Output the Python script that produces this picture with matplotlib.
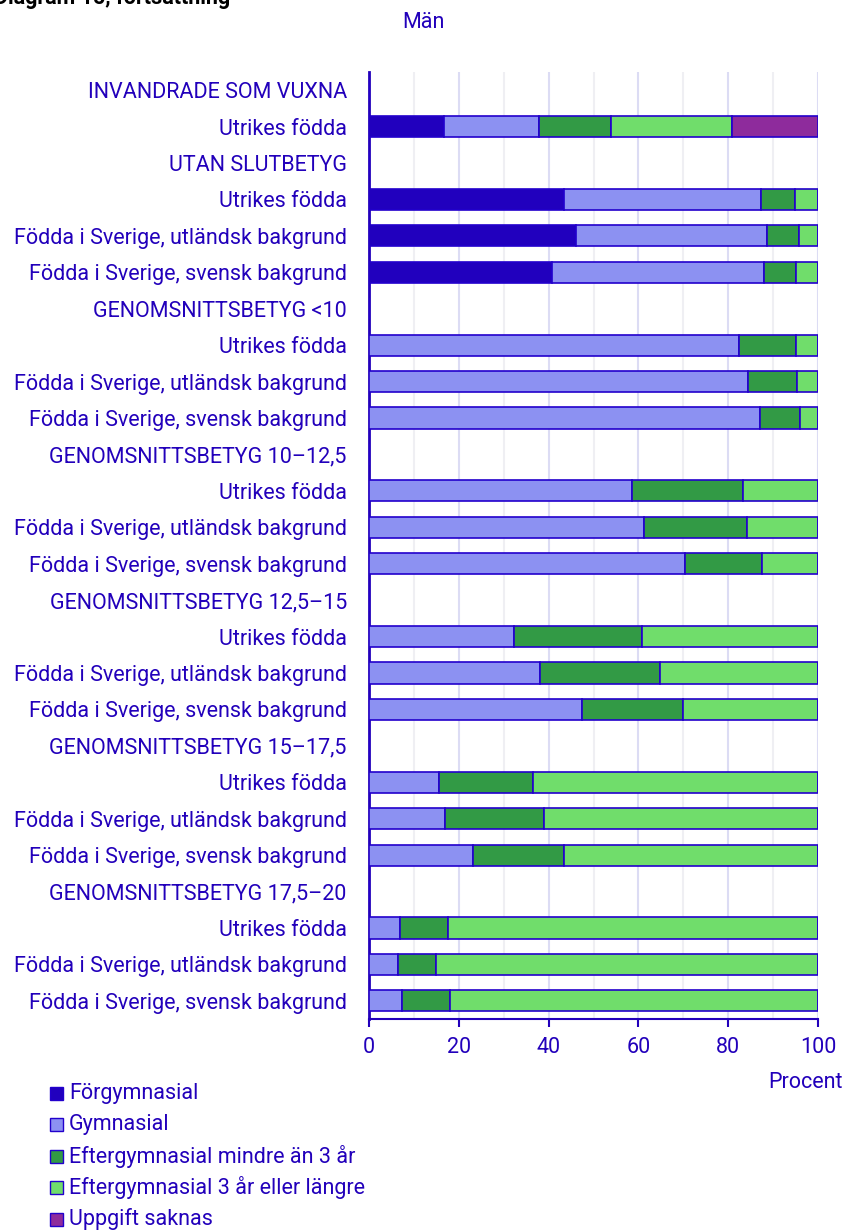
import matplotlib.pyplot as plt
from matplotlib.patches import Rectangle

plt.rcParams['font.family'] = ['Roboto', 'DejaVu Sans']

categories = [
    "INVANDRADE SOM VUXNA", "Utrikes födda",
    "UTAN SLUTBETYG", "Utrikes födda",
    "Födda i Sverige, utländsk bakgrund", "Födda i Sverige, svensk bakgrund",
    "GENOMSNITTSBETYG <10", "Utrikes födda",
    "Födda i Sverige, utländsk bakgrund", "Födda i Sverige, svensk bakgrund",
    "GENOMSNITTSBETYG 10–12,5", "Utrikes födda",
    "Födda i Sverige, utländsk bakgrund", "Födda i Sverige, svensk bakgrund",
    "GENOMSNITTSBETYG 12,5–15", "Utrikes födda",
    "Födda i Sverige, utländsk bakgrund", "Födda i Sverige, svensk bakgrund",
    "GENOMSNITTSBETYG 15–17,5", "Utrikes födda",
    "Födda i Sverige, utländsk bakgrund", "Födda i Sverige, svensk bakgrund",
    "GENOMSNITTSBETYG 17,5–20", "Utrikes födda",
    "Födda i Sverige, utländsk bakgrund", "Födda i Sverige, svensk bakgrund",
]

# header rows have no bars (0)
forgymnasial = [0, 16.8, 0, 43.4, 46.0, 40.7, 0, 0, 0, 0, 0, 0, 0, 0,
                0, 0, 0, 0, 0, 0, 0, 0, 0, 0, 0, 0]
gymnasial = [0, 21.1, 0, 44.0, 42.7, 47.2, 0, 82.3, 84.4, 87.0, 0, 58.6, 61.2, 70.3,
             0, 32.2, 38.0, 47.4, 0, 15.5, 16.9, 23.1, 0, 7.0, 6.4, 7.3]
efter_kort = [0, 16.1, 0, 7.4, 7.0, 7.3, 0, 12.9, 11.0, 9.1, 0, 24.6, 22.9, 17.3,
              0, 28.7, 26.8, 22.5, 0, 21.0, 22.0, 20.4, 0, 10.6, 8.6, 10.7]
efter_lang = [0, 26.8, 0, 5.2, 4.3, 4.8, 0, 4.8, 4.6, 3.9, 0, 16.8, 15.9, 12.4,
              0, 39.1, 35.2, 30.1, 0, 63.5, 61.1, 56.5, 0, 82.4, 85.0, 82.0]
uppgift_saknas = [0, 19.2, 0, 0, 0, 0, 0, 0, 0, 0, 0, 0, 0, 0,
                  0, 0, 0, 0, 0, 0, 0, 0, 0, 0, 0, 0]

series = [
    ("Förgymnasial", forgymnasial, "#2100be"),
    ("Gymnasial", gymnasial, "#8c91f2"),
    ("Eftergymnasial mindre än 3 år", efter_kort, "#329a45"),
    ("Eftergymnasial 3 år eller längre", efter_lang, "#70dd6b"),
    ("Uppgift saknas", uppgift_saknas, "#8e2b9c"),
]

TXT = "#2200bb"
FS = 15.5
W, H = 847, 1230

fig = plt.figure(figsize=(W / 100, H / 100), dpi=100)
ax = fig.add_axes([369 / W, 1 - 1019 / H, (818 - 369) / W, (1019 - 72) / H])

y = list(range(len(categories)))
left = [0] * len(categories)
for name, vals, col in series:
    ax.barh(y, vals, left=left, height=0.58, color=col, edgecolor="#2200cc",
            linewidth=1.2, zorder=3)
    left = [l + v for l, v in zip(left, vals)]

ax.set_ylim(len(categories) - 0.5, -0.5)
ax.set_xlim(0, 100)
ax.set_yticks(y)
ax.set_yticklabels(categories)
ax.set_xticks(range(0, 101, 20))
ax.set_xticks(range(10, 100, 20), minor=True)

ax.grid(axis="x", which="major", color="#dcdcf4", linewidth=1.5, zorder=0)
ax.grid(axis="x", which="minor", color="#efeff3", linewidth=1.5, zorder=0)
ax.set_axisbelow(True)

for s in ["top", "right"]:
    ax.spines[s].set_visible(False)
ax.spines["left"].set_color(TXT)
ax.spines["left"].set_linewidth(2)
ax.spines["bottom"].set_color(TXT)
ax.spines["bottom"].set_linewidth(1.5)

ax.tick_params(axis="y", length=0, pad=16, labelsize=FS, labelcolor=TXT)
ax.tick_params(axis="x", which="major", length=6, width=1.5, color=TXT,
               labelsize=FS, labelcolor=TXT, pad=7)
ax.tick_params(axis="x", which="minor", length=0)

fig.text(423 / W, 1 - 22 / H, "Män", ha="center", va="center", fontsize=FS, color=TXT)
fig.text(843 / W, 1 - 1082 / H, "Procent", ha="right", va="center", fontsize=FS, color=TXT)
fig.text(230 / W, 1 - 4 / H, "Diagram 15, fortsättning", ha="right", va="baseline",
         fontsize=FS, fontweight="bold", color="black")

# legend
for i, (name, vals, col) in enumerate(series):
    yc = 1093 + i * 31.5
    fig.patches.append(Rectangle((50 / W, 1 - (yc + 6.5) / H), 13 / W, 13 / H,
                                 facecolor=col, edgecolor="#2200cc", linewidth=1,
                                 transform=fig.transFigure, figure=fig))
    fig.text(69 / W, 1 - yc / H, name, ha="left", va="center", fontsize=FS, color=TXT)

fig.savefig("out.png", dpi=100)
